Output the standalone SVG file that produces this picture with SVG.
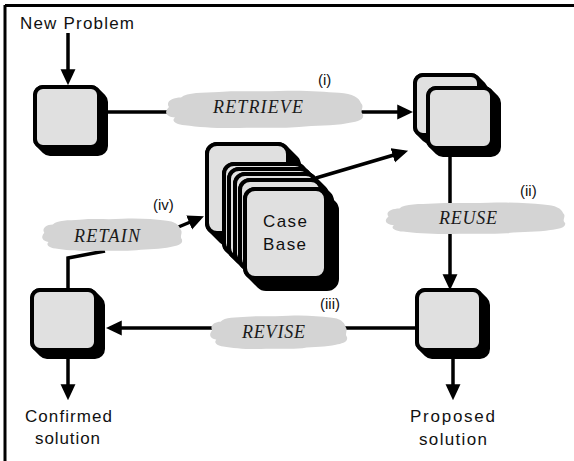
<svg xmlns="http://www.w3.org/2000/svg" xmlns:xlink="http://www.w3.org/1999/xlink" width="574" height="461" viewBox="0 0 574 461">
<style>
.face{fill:#e0e0e0;stroke:#000;stroke-width:4}
.hull{fill:#000}
.conn{fill:none;stroke:#000;stroke-width:3.5}
.cloud{fill:#d4d4d4}
.op{font-family:"Liberation Serif","Times New Roman",serif;font-style:italic;font-size:18px;fill:#1a1a1a}
.lbl{font-family:"Liberation Sans",Arial,sans-serif;font-size:17px;fill:#111}
.num{font-family:"Liberation Sans",Arial,sans-serif;font-size:15px;fill:#111}
</style>
<defs>
<marker id="ah" markerUnits="userSpaceOnUse" markerWidth="16" markerHeight="16" viewBox="0 0 15 14" refX="11" refY="7" orient="auto">
<path d="M0,0 L15,7 L0,14 Z" fill="#000"/>
</marker>
<g id="box">
<path class="hull" d="M10,0 H58 A10 10 0 0 1 65.07,2.93 L72.07,9.93 A10 10 0 0 1 75,17 V61 A10 10 0 0 1 65,71 H17 A10 10 0 0 1 9.93,68.07 L2.93,61.07 A10 10 0 0 1 0,54 V10 A10 10 0 0 1 10,0 Z"/>
<rect class="face" x="2" y="2" width="64" height="60" rx="8"/>
</g>
<g id="card">
<path class="hull" d="M12,0 H73 A12 12 0 0 1 81.49,3.52 L92.49,14.52 A12 12 0 0 1 96,23 V92 A12 12 0 0 1 84,104 H23 A12 12 0 0 1 14.52,100.48 L3.52,89.48 A12 12 0 0 1 0,81 V12 A12 12 0 0 1 12,0 Z"/>
<rect class="face" x="2" y="2" width="81" height="89" rx="10"/>
</g>
<path id="cloudshape" d="M3,9 C1,6 5,4 9,4 C12,1 20,1.5 28,1 C38,0.3 48,1 58,0.5 C70,0 80,0.8 88,1.5 C95,2 98,4 99,7 C101,9 98,11 100,13 C101,16 96,17 92,17.5 C85,19 76,18.5 68,19.5 C58,20.3 48,19.6 38,20 C28,20.3 18,19.5 11,18.5 C6,18 4,16 6,14.5 C2,14 0,12 3,9 Z"/>
</defs>
<rect width="574" height="461" fill="#fff"/>
<path d="M5,5.5 H574 M5,5 V461" fill="none" stroke="#000" stroke-width="3"/>

<g id="connectors">
<line class="conn" x1="68" y1="33" x2="68" y2="81" marker-end="url(#ah)"/>
<line class="conn" x1="106" y1="112" x2="175" y2="112"/>
<line class="conn" x1="355" y1="112" x2="409" y2="112" marker-end="url(#ah)"/>
<line class="conn" x1="316" y1="178" x2="404" y2="152" marker-end="url(#ah)"/>
<line class="conn" x1="450" y1="156" x2="450" y2="215"/>
<line class="conn" x1="450" y1="220" x2="450" y2="286" marker-end="url(#ah)"/>
<line class="conn" x1="453" y1="350" x2="453" y2="396" marker-end="url(#ah)"/>
<line class="conn" x1="416" y1="328" x2="340" y2="328"/>
<line class="conn" x1="215" y1="328" x2="110" y2="328" marker-end="url(#ah)"/>
<line class="conn" x1="68" y1="354" x2="68" y2="396" marker-end="url(#ah)"/>
<polyline class="conn" points="68,290 68,258 105,251"/>
<line class="conn" x1="176" y1="228" x2="200" y2="218" marker-end="url(#ah)"/>
</g>

<g id="retrieve">
<use xlink:href="#cloudshape" class="cloud" transform="translate(163,90) scale(2,1.9)"/>
<text class="op" x="213" y="113" textLength="90" lengthAdjust="spacing">RETRIEVE</text>
<text class="num" x="318" y="85">(i)</text>
</g>
<g id="reuse">
<use xlink:href="#cloudshape" class="cloud" transform="translate(383,202) scale(1.82,1.6)"/>
<text class="op" x="439" y="224" textLength="58" lengthAdjust="spacing">REUSE</text>
<text class="num" x="520" y="196">(ii)</text>
</g>
<g id="revise">
<use xlink:href="#cloudshape" class="cloud" transform="translate(208,315) scale(1.39,1.7)"/>
<text class="op" x="242" y="338" textLength="63" lengthAdjust="spacing">REVISE</text>
<text class="num" x="320" y="309">(iii)</text>
</g>
<g id="retain">
<use xlink:href="#cloudshape" class="cloud" transform="translate(40,218) scale(1.42,1.65)"/>
<text class="op" x="74" y="242" textLength="66" lengthAdjust="spacing">RETAIN</text>
<text class="num" x="153" y="210">(iv)</text>
</g>

<g id="new-problem">
<use xlink:href="#box" transform="translate(33,85)"/>
<text class="lbl" x="20" y="29" textLength="114" lengthAdjust="spacing">New Problem</text>
</g>
<g id="retrieved-case">
<use xlink:href="#box" transform="translate(413,73)"/>
<use xlink:href="#box" transform="translate(426,86)"/>
</g>
<g id="case-base">
<use xlink:href="#card" transform="translate(205,142)"/>
<use xlink:href="#card" transform="translate(222,162)"/>
<use xlink:href="#card" transform="translate(227,167)"/>
<use xlink:href="#card" transform="translate(233,172)"/>
<use xlink:href="#card" transform="translate(238,178)"/>
<use xlink:href="#card" transform="translate(243,187)"/>
<text class="lbl" x="263" y="227" textLength="44" lengthAdjust="spacing">Case</text>
<text class="lbl" x="263" y="250" textLength="43" lengthAdjust="spacing">Base</text>
</g>
<g id="proposed">
<use xlink:href="#box" transform="translate(415,288)"/>
<text class="lbl" x="410" y="422" textLength="85" lengthAdjust="spacing">Proposed</text>
<text class="lbl" x="419" y="445" textLength="68" lengthAdjust="spacing">solution</text>
</g>
<g id="confirmed">
<use xlink:href="#box" transform="translate(30,288)"/>
<text class="lbl" x="25" y="422" textLength="87" lengthAdjust="spacing">Confirmed</text>
<text class="lbl" x="35" y="444" textLength="65" lengthAdjust="spacing">solution</text>
</g>
</svg>
